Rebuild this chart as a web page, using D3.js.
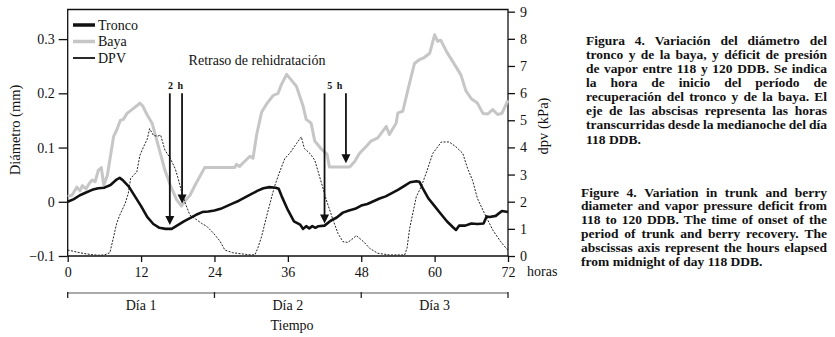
<!DOCTYPE html>
<html>
<head>
<meta charset="utf-8">
<script src="https://cdn.jsdelivr.net/npm/d3@7"></script>
<style>
  body { margin: 0; background: #fff; }
  svg text { font-family: "Liberation Serif", "Times New Roman", serif; fill: #111; }
</style>
</head>
<body>
<div id="chart"></div>
<script>
// Diámetro del tronco (mm) por hora
var tronco = [[0,0.000],[1,0.005],[2,0.012],[3,0.017],[4,0.022],[5,0.025],[6,0.026],[7,0.031],[8,0.041],[8.5,0.044],
  [9,0.040],[10,0.028],[11,0.010],[12,-0.008],[13,-0.028],[14,-0.041],[15,-0.048],[16,-0.050],[17,-0.050],[18,-0.043],
  [19,-0.036],[20,-0.030],[21,-0.024],[22,-0.019],[23,-0.018],[24,-0.016],[25,-0.013],[26,-0.008],[27,-0.003],[28,0.002],
  [29,0.008],[30,0.014],[31,0.020],[32,0.025],[33,0.027],[34,0.026],[34.5,0.024],[35,0.010],[36,-0.015],[37,-0.036],
  [38,-0.042],[38.5,-0.050],[39,-0.045],[39.5,-0.049],[40,-0.045],[40.5,-0.048],[41,-0.045],[42,-0.044],[43,-0.035],
  [44,-0.029],[45,-0.020],[46,-0.016],[47,-0.013],[48,-0.007],[49,-0.004],[50,0.001],[51,0.006],[52,0.010],[53,0.016],
  [54,0.022],[55,0.029],[56,0.036],[57,0.038],[57.5,0.037],[58,0.026],[59,0.006],[60,-0.008],[61,-0.022],[62,-0.036],
  [63,-0.047],[63.5,-0.052],[64,-0.044],[65,-0.044],[66,-0.040],[67,-0.041],[68,-0.040],[68.5,-0.027],[69,-0.028],
  [70,-0.026],[71,-0.017],[72,-0.019]];

// Diámetro de la baya (mm)
var baya = [[0,0.010],[0.7,0.012],[1.5,0.027],[2,0.020],[2.4,0.030],[3,0.024],[3.6,0.035],[4,0.040],[4.5,0.037],[5,0.058],
  [5.5,0.063],[5.9,0.030],[6.5,0.050],[7,0.085],[7.5,0.120],[8,0.132],[8.6,0.150],[9.1,0.152],[9.7,0.163],[10.5,0.170],
  [11.3,0.177],[11.8,0.182],[12.3,0.176],[13,0.160],[13.8,0.145],[14.9,0.100],[15.9,0.058],[16.8,0.030],[17.8,0.004],
  [18.6,-0.008],[19.2,0.002],[20,0.012],[20.8,0.030],[22.4,0.063],[27.3,0.063],[27.6,0.069],[28.1,0.065],[28.7,0.072],
  [29.8,0.084],[30.3,0.080],[30.9,0.124],[31.7,0.165],[32.5,0.180],[33.6,0.196],[34.4,0.200],[34.9,0.215],[35.8,0.235],
  [36.3,0.228],[37.4,0.213],[38.5,0.176],[39,0.152],[39.8,0.145],[40.4,0.112],[41.5,0.097],[42.4,0.088],[42.8,0.064],
  [46.1,0.064],[46.9,0.074],[47.7,0.089],[48.8,0.102],[49.6,0.112],[50.7,0.118],[52.1,0.139],[52.6,0.124],[53.7,0.145],
  [54,0.164],[54.8,0.167],[55.6,0.205],[56.7,0.255],[57.5,0.262],[58.3,0.266],[59.2,0.274],[60,0.308],[60.5,0.296],
  [61,0.298],[62,0.276],[63,0.258],[64.3,0.234],[65.1,0.205],[66,0.190],[67,0.182],[67.9,0.163],[68.7,0.162],
  [69.5,0.170],[70.3,0.161],[71,0.163],[72,0.187]];

// Déficit de presión de vapor (kPa)
var dpv = [[0,0.22],[1,0.17],[2,0.12],[3,0.08],[4,0.05],[5,0.03],[6,0.04],[6.9,0.12],[7.5,0.7],[8,1.2],[8.5,1.5],
  [9.4,1.94],[9.9,2.3],[10.3,2.86],[10.8,2.98],[11.3,3.1],[11.8,3.7],[12.4,4.02],[13,4.3],[13.4,4.69],[14,4.45],
  [14.6,4.41],[15.2,4.45],[15.9,3.9],[16.8,3.59],[17.6,3.2],[18,2.9],[18.7,2.3],[19.3,1.9],[20,1.5],[21,1.35],
  [21.9,1.2],[22.7,1.1],[23.8,0.85],[24.9,0.55],[25.7,0.22],[27,0.12],[28.4,0.08],[29.5,0.05],[30.6,0.04],[31.1,0.3],
  [31.7,0.71],[32.5,1.44],[33.8,2.55],[34.5,3.0],[35.5,3.59],[36.3,3.78],[37.4,4.14],[38.2,4.39],[38.7,3.96],
  [39.6,3.78],[40.4,3.53],[41.2,2.92],[42.3,2.06],[43.4,1.32],[44.2,0.83],[45,0.53],[45.8,0.5],[46.4,0.6],[47.2,0.75],
  [48,0.6],[48.5,0.5],[49.4,0.28],[50.7,0.1],[52.6,0.04],[55.1,0.04],[55.5,0.3],[55.9,1.0],[57,2.18],[57.8,2.55],
  [58.6,3.04],[59.7,3.78],[61.1,4.2],[62.4,4.2],[63.5,4.02],[64.6,3.78],[65.4,3.22],[66.2,2.79],[67,2.12],[67.9,1.69],
  [68.7,1.32],[69.5,0.96],[70.6,0.59],[71.7,0.28],[72,0.22]];

var horasTicks = [0, 12, 24, 36, 48, 60, 72];
var mmTicks = [-0.1, 0, 0.1, 0.2, 0.3];
var kpaTicks = [0, 1, 2, 3, 4, 5, 6, 7, 8, 9];
var diasBordes = [0, 24, 48, 72];
var diasCentro = [12, 36, 60];
var diasNombre = ["Día 1", "Día 2", "Día 3"];

// flechas de inicio de recuperación: hora, valor (mm) de la punta
var flechasHora = [16.7, 18.7, 42, 45.5];
var flechasPunta = [-0.043, -0.003, -0.040, 0.071];
var flechasEtiqueta = ["2 h", "5 h"];
var flechaInicio = 0.2;

var leyenda = ["Tronco", "Baya", "DPV"];

var textoES = [
  "Figura 4. Variación del diámetro del",
  "tronco y de la baya, y déficit de presión",
  "de vapor entre 118 y 120 DDB. Se indica",
  "la hora de inicio del período de",
  "recuperación del tronco y de la baya. El",
  "eje de las abscisas representa las horas",
  "transcurridas desde la medianoche del día",
  "118 DDB."];
var textoEN = [
  "Figure 4. Variation in trunk and berry",
  "diameter and vapor pressure deficit from",
  "118 to 120 DDB. The time of onset of the",
  "period of trunk and berry recovery. The",
  "abscissas axis represent the hours elapsed",
  "from midnight of day 118 DDB."];

function init() {
    var w = 835, h = 337;
    var left = 67.7, right = 508, top = 9.5, bottom = 256;

    var svg = d3.select("#chart").append("svg")
        .attr("width", w).attr("height", h);

    var x = d3.scaleLinear().domain([0, 72]).range([left, right]);
    var yL = d3.scaleLinear().domain([-0.1, 0.3546]).range([bottom, top]);
    var yR = d3.scaleLinear().domain([0, 9.08]).range([bottom, top]);

    // marco
    svg.append("path")
        .attr("d", "M" + left + "," + bottom + "V" + top + "H" + right + "V" + bottom + "H" + left)
        .attr("fill", "none").attr("stroke", "#111").attr("stroke-width", 1.3);

    // ejes
    var axL = svg.append("g").attr("transform", "translate(" + left + ",0)")
        .call(d3.axisLeft(yL).tickValues(mmTicks).tickSize(9).tickPadding(4)
            .tickFormat(function(d) { return d == 0 ? "0" : (d < 0 ? "\u22120.1" : d3.format(".1f")(d)); }));
    var axR = svg.append("g").attr("transform", "translate(" + right + ",0)")
        .call(d3.axisRight(yR).tickValues(kpaTicks).tickSize(7).tickPadding(5));
    var axB = svg.append("g").attr("transform", "translate(0," + bottom + ")")
        .call(d3.axisBottom(x).tickValues(horasTicks).tickSize(6).tickPadding(5));
    [axL, axR, axB].forEach(function(a) {
        a.select(".domain").remove();
        a.selectAll("line").attr("stroke", "#111").attr("stroke-width", 1.3);
        a.selectAll("text").attr("font-size", 14).style("font-family", "Liberation Serif, serif").attr("fill", "#111");
    });

    svg.append("text").attr("x", 527).attr("y", 276).attr("font-size", 14).text("horas");

    // títulos de ejes
    svg.append("text")
        .attr("transform", "translate(20," + 130 + ") rotate(-90)")
        .attr("text-anchor", "middle").attr("font-size", 14.5).text("Diámetro (mm)");
    svg.append("text")
        .attr("transform", "translate(548," + 126 + ") rotate(-90)")
        .attr("text-anchor", "middle").attr("font-size", 14.5).text("dpv (kPa)");

    // series
    var lineL = d3.line().x(function(d) { return x(d[0]); }).y(function(d) { return yL(d[1]); });
    var lineR = d3.line().x(function(d) { return x(d[0]); }).y(function(d) { return yR(d[1]); });

    svg.append("path").datum(baya).attr("d", lineL)
        .attr("fill", "none").attr("stroke", "#c6c6c6").attr("stroke-width", 3).attr("stroke-linejoin", "round");
    svg.append("path").datum(dpv).attr("d", lineR)
        .attr("fill", "none").attr("stroke", "#222").attr("stroke-width", 1).attr("stroke-dasharray", "2,1.4");
    svg.append("path").datum(tronco).attr("d", lineL)
        .attr("fill", "none").attr("stroke", "#111").attr("stroke-width", 2.6).attr("stroke-linejoin", "round");

    // flechas
    flechasHora.forEach(function(hr, i) {
        var xp = x(hr), y0 = yL(flechaInicio), y1 = yL(flechasPunta[i]);
        svg.append("line").attr("x1", xp).attr("x2", xp).attr("y1", y0).attr("y2", y1 - 8)
            .attr("stroke", "#111").attr("stroke-width", 1.8);
        svg.append("path")
            .attr("d", "M" + (xp - 4.5) + "," + (y1 - 9) + "L" + (xp + 4.5) + "," + (y1 - 9) + "L" + xp + "," + y1 + "Z")
            .attr("fill", "#111");
    });
    flechasEtiqueta.forEach(function(t, i) {
        var xm = (x(flechasHora[2 * i]) + x(flechasHora[2 * i + 1])) / 2;
        svg.append("text").attr("x", xm).attr("y", yL(flechaInicio) - 4)
            .attr("text-anchor", "middle").attr("font-size", 10).attr("font-weight", "bold")
            .attr("letter-spacing", 1).text(t);
    });
    svg.append("text").attr("x", 257).attr("y", 65).attr("text-anchor", "middle")
        .attr("font-size", 14).text("Retraso de rehidratación");

    // leyenda
    var estilos = [{c: "#111", sw: 3.5}, {c: "#c6c6c6", sw: 3.5}, {c: "#111", sw: 1.8}];
    leyenda.forEach(function(t, i) {
        var yy = 25 + i * 16.5;
        svg.append("line").attr("x1", 73).attr("x2", 95).attr("y1", yy).attr("y2", yy)
            .attr("stroke", estilos[i].c).attr("stroke-width", estilos[i].sw);
        svg.append("text").attr("x", 98).attr("y", yy + 4.8).attr("font-size", 14).text(t);
    });

    // eje de días
    svg.append("line").attr("x1", x(0)).attr("x2", x(72)).attr("y1", 293).attr("y2", 293)
        .attr("stroke", "#aaa").attr("stroke-width", 2);
    diasBordes.forEach(function(d) {
        svg.append("line").attr("x1", x(d)).attr("x2", x(d)).attr("y1", 292).attr("y2", 298)
            .attr("stroke", "#222").attr("stroke-width", 1.3);
    });
    diasCentro.forEach(function(d, i) {
        svg.append("text").attr("x", x(d)).attr("y", 310).attr("text-anchor", "middle")
            .attr("font-size", 14).text(diasNombre[i]);
    });
    svg.append("text").attr("x", 292).attr("y", 330).attr("text-anchor", "middle")
        .attr("font-size", 14).text("Tiempo");

    // texto del pie, justificado
    function parrafo(lineas, x0, x1, yStart, paso) {
        lineas.forEach(function(l, i) {
            var palabras = l.split(" ");
            var g = svg.append("g");
            var anchos = palabras.map(function(p) {
                var t = g.append("text").attr("y", yStart + i * paso)
                    .attr("font-size", 13.5).attr("font-weight", "bold").text(p);
                return t;
            });
            var total = d3.sum(anchos, function(t) { return t.node().getComputedTextLength(); });
            var ultima = i == lineas.length - 1;
            var gap = ultima ? 3.4 : (x1 - x0 - total) / (palabras.length - 1);
            var cx = x0;
            anchos.forEach(function(t) {
                t.attr("x", cx);
                cx += t.node().getComputedTextLength() + gap;
            });
        });
    }
    parrafo(textoES, 586, 827, 44.5, 14.15);
    parrafo(textoEN, 581, 827, 196.5, 13.9);
}

window.onload = init;
</script>
</body>
</html>
